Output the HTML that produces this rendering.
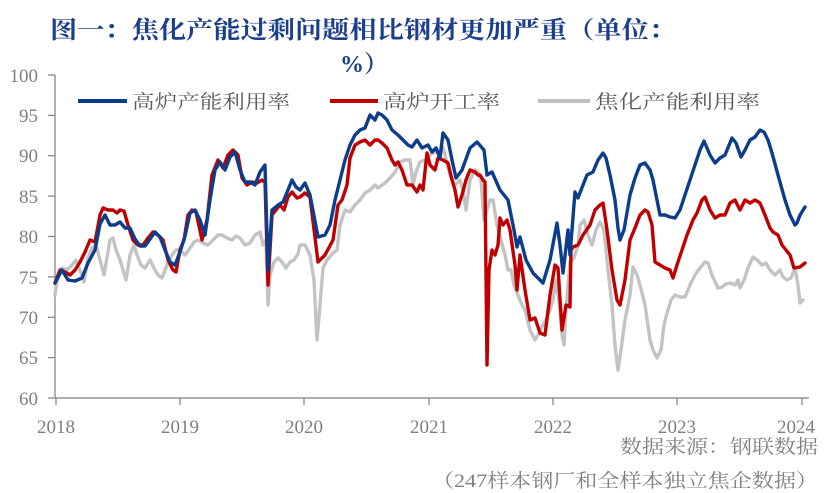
<!DOCTYPE html>
<html><head><meta charset="utf-8"><style>
html,body{margin:0;padding:0;background:#fff;}
svg{display:block;}
.t{font-family:"Liberation Serif","Noto Serif CJK SC",serif;font-weight:bold;fill:#1b3f8b;font-size:24px;}
.ax{font-family:"Liberation Serif","Noto Serif CJK SC",serif;fill:#7f7f7f;font-size:19px;}
.lg{font-family:"Liberation Serif","Noto Serif CJK SC",serif;fill:#595959;font-size:19px;}
.src{font-family:"Liberation Serif","Noto Serif CJK SC",serif;fill:#7f7f7f;font-size:19px;}
polyline{fill:none;stroke-width:3.4;stroke-linejoin:round;stroke-linecap:round;}
</style></head><body>
<svg width="830" height="493" viewBox="0 0 830 493" xmlns="http://www.w3.org/2000/svg">
<text class="t" x="50" y="38" textLength="626" lengthAdjust="spacingAndGlyphs">图一：焦化产能过剩问题相比钢材更加严重（单位：</text>
<text class="t" x="340" y="72">%）</text>

<g stroke="#7f7f7f" stroke-width="1.2">
<line x1="55" y1="75" x2="55" y2="398"/>
<line x1="55" y1="398" x2="809" y2="398"/>
<line x1="48" y1="75" x2="55" y2="75"/>
<line x1="48" y1="115.4" x2="55" y2="115.4"/>
<line x1="48" y1="155.75" x2="55" y2="155.75"/>
<line x1="48" y1="196.1" x2="55" y2="196.1"/>
<line x1="48" y1="236.5" x2="55" y2="236.5"/>
<line x1="48" y1="276.9" x2="55" y2="276.9"/>
<line x1="48" y1="317.25" x2="55" y2="317.25"/>
<line x1="48" y1="357.6" x2="55" y2="357.6"/>
<line x1="48" y1="398" x2="55" y2="398"/>
<line x1="56" y1="398" x2="56" y2="405"/>
<line x1="180" y1="398" x2="180" y2="405"/>
<line x1="304" y1="398" x2="304" y2="405"/>
<line x1="429" y1="398" x2="429" y2="405"/>
<line x1="553" y1="398" x2="553" y2="405"/>
<line x1="677" y1="398" x2="677" y2="405"/>
<line x1="802" y1="398" x2="802" y2="405"/>
</g>
<g class="ax" text-anchor="end">
<text x="38" y="82">100</text>
<text x="38" y="122">95</text>
<text x="38" y="162">90</text>
<text x="38" y="203">85</text>
<text x="38" y="243">80</text>
<text x="38" y="284">75</text>
<text x="38" y="324">70</text>
<text x="38" y="364">65</text>
<text x="38" y="405">60</text>
</g>
<g class="ax" text-anchor="middle">
<text x="56" y="433">2018</text>
<text x="180" y="433">2019</text>
<text x="304" y="433">2020</text>
<text x="429" y="433">2021</text>
<text x="553" y="433">2022</text>
<text x="677" y="433">2023</text>
<text x="796" y="433">2024</text>
</g>
<text class="src" x="620" y="453" textLength="198" lengthAdjust="spacingAndGlyphs">数据来源：钢联数据</text>
<text class="src" x="432" y="487" textLength="386" lengthAdjust="spacingAndGlyphs">（247样本钢厂和全样本独立焦企数据）</text>

<line x1="78" y1="101" x2="127" y2="101" stroke="#0b3d8c" stroke-width="4"/>
<text class="lg" x="132" y="108" textLength="158" lengthAdjust="spacingAndGlyphs">高炉产能利用率</text>
<line x1="330" y1="101" x2="378" y2="101" stroke="#c00000" stroke-width="4"/>
<text class="lg" x="383" y="108" textLength="117" lengthAdjust="spacingAndGlyphs">高炉开工率</text>
<line x1="538" y1="101" x2="590" y2="101" stroke="#c0c0c0" stroke-width="4"/>
<text class="lg" x="595" y="108" textLength="165" lengthAdjust="spacingAndGlyphs">焦化产能利用率</text>

<polyline stroke="#c3c3c3" points="55,295 58,275 62,268 67,270 72,265 76,260 80,270 84,282 88,258 92,248 96,245 100,260 104,275 108,252 110,240 113,238 116,250 120,260 123,270 126,280 130,255 134,245 137,255 141,265 145,268 150,260 154,268 158,275 162,278 167,265 172,255 176,250 180,250 185,255 190,248 194,242 198,240 203,243 208,245 213,240 218,235 222,235 227,238 232,240 236,236 240,238 245,245 250,243 255,235 260,232 263,245 266,240 268,305 270,275 274,262 278,258 282,262 286,268 290,262 294,260 298,254 300,245 305,245 310,255 314,280 317,340 320,305 323,268 327,260 333,253 337,250 340,225 345,210 350,212 355,205 360,200 365,193 370,190 375,185 378,188 385,183 390,178 395,172 400,162 405,160 410,160 413,185 416,172 420,162 425,160 430,155 435,152 440,150 443,148 445,155 450,175 455,185 460,180 463,190 466,210 470,180 475,170 478,172 481,180 484,220 487,210 490,200 493,200 497,225 501,240 505,255 508,270 511,270 514,285 518,295 522,305 525,310 530,330 535,340 538,335 543,325 546,320 550,310 553,300 556,280 559,300 562,335 564,345 566,310 570,262 574,258 578,245 580,225 584,220 588,235 592,245 596,230 600,222 604,230 608,270 612,305 615,345 618,370 621,350 625,320 630,295 633,267 637,275 640,285 645,305 650,340 653,350 657,358 661,350 664,325 667,313 671,300 675,295 680,297 685,297 690,285 695,275 700,268 705,262 708,263 712,275 718,288 722,287 726,284 730,283 735,285 738,280 740,288 744,280 748,268 753,257 757,260 762,265 766,263 770,270 775,275 780,270 783,277 787,280 791,278 795,268 798,285 800,303 803,300"/>

<polyline stroke="#c00000" points="55,283 60,270 65,272 70,275 75,270 80,262 85,252 90,240 95,242 100,215 103,208 108,210 113,210 117,213 120,210 124,211 128,225 133,240 138,245 143,245 148,238 153,232 158,235 163,240 168,260 173,270 176,272 180,250 184,240 188,215 192,210 196,212 202,240 207,220 212,175 218,160 223,168 228,155 233,150 238,155 242,178 247,185 252,182 257,183 262,180 265,182 268,285 272,215 276,210 280,205 284,210 288,197 292,192 297,198 300,197 305,193 310,197 318,262 325,255 333,240 338,205 342,200 347,185 350,158 355,145 360,142 365,140 370,145 375,140 378,140 382,143 387,148 392,160 395,165 398,162 402,170 407,185 412,185 417,192 420,185 423,190 427,153 430,165 435,170 438,158 443,160 448,163 452,180 455,190 458,207 462,195 466,180 470,170 475,172 478,175 480,175 483,180 485,182 487,365 489,270 492,250 495,255 498,245 500,218 503,225 507,220 510,230 515,265 517,290 520,255 525,290 530,320 535,318 540,333 545,335 550,295 555,265 558,268 562,330 566,305 570,307 571,250 573,247 578,245 583,235 590,225 595,210 600,205 603,203 607,230 612,270 617,300 620,305 625,280 630,240 635,228 640,215 645,210 648,212 652,225 655,262 660,265 665,268 670,270 673,278 677,265 682,250 687,235 693,220 697,213 702,200 705,197 710,210 715,218 720,215 725,215 730,203 735,200 740,210 745,200 750,203 755,200 760,203 765,215 770,228 773,232 778,235 782,245 786,250 790,255 794,268 800,267 805,263"/>

<polyline stroke="#0b3d8c" points="55,283 62,270 68,280 75,281 82,278 88,263 95,250 100,224 105,215 110,225 115,225 120,222 125,228 130,228 135,239 140,246 145,246 150,239 155,232 160,237 165,250 170,262 175,265 180,252 185,236 190,213 195,210 200,220 205,235 210,200 215,170 220,162 225,170 230,157 235,152 240,170 245,182 250,182 255,185 260,172 265,165 268,270 272,210 278,205 283,202 288,190 292,180 296,187 300,190 305,183 310,195 318,237 325,235 330,225 335,200 340,180 345,160 350,145 355,135 360,130 365,128 370,115 375,120 378,113 382,115 387,120 392,130 398,135 403,140 408,145 412,147 417,140 422,148 428,145 432,152 436,148 440,158 443,133 448,140 452,160 456,178 462,170 470,148 477,142 484,150 487,175 492,172 500,190 508,200 514,230 517,247 520,237 526,260 533,273 543,283 550,260 557,223 560,245 563,273 568,230 570,255 575,192 578,198 583,185 587,175 593,172 598,160 603,153 606,158 610,175 615,200 618,228 620,240 624,230 630,195 635,178 640,165 645,163 650,170 653,180 657,200 660,215 665,215 670,217 675,218 680,210 685,195 690,180 695,165 700,150 704,141 710,155 715,163 720,158 725,155 732,138 736,143 741,157 745,150 750,140 755,137 760,130 764,132 768,140 772,153 778,175 785,200 790,215 795,225 797,223 800,215 805,207"/>
</svg>
</body></html>
